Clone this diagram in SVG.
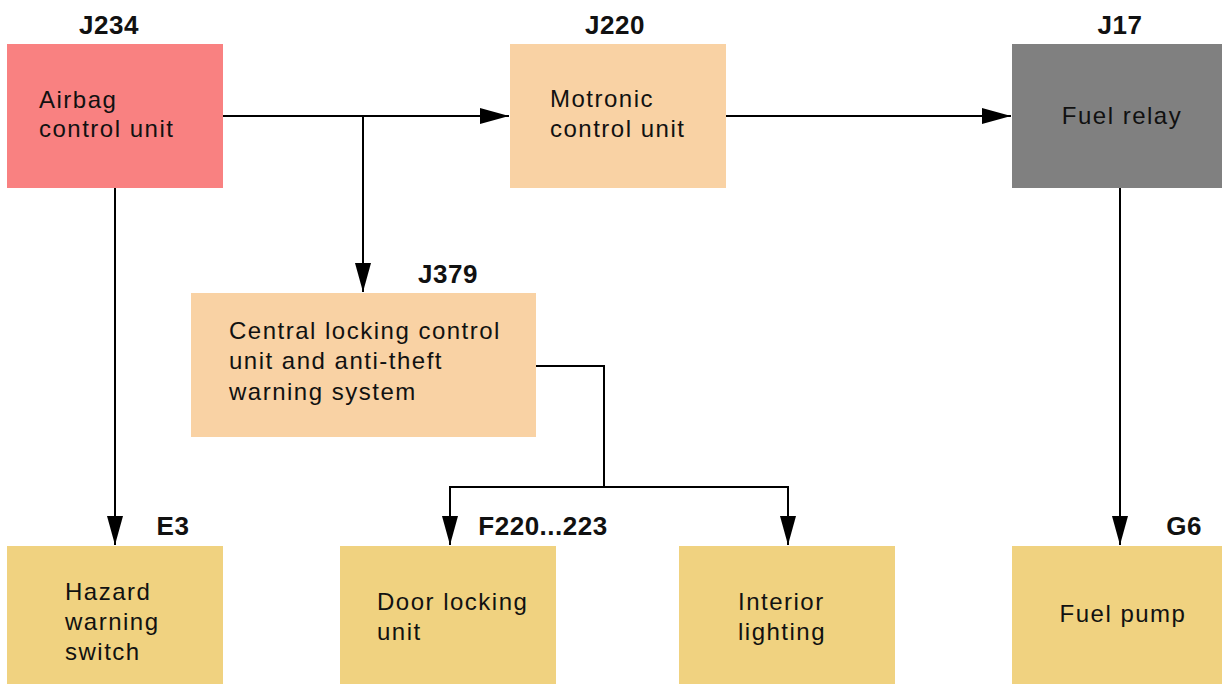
<svg xmlns="http://www.w3.org/2000/svg" width="1222" height="684" viewBox="0 0 1222 684">
<defs>
<marker id="arr" markerUnits="userSpaceOnUse" markerWidth="30" markerHeight="18" refX="29" refY="8" orient="auto">
<path d="M0,0 L29,8 L0,16 z" fill="#000"/>
</marker>
<style>
.t{font-family:"Liberation Sans",Arial,sans-serif;font-size:24px;letter-spacing:1.5px;fill:#111}
.c{text-anchor:middle}
.lb{font-family:"Liberation Sans",Arial,sans-serif;font-size:26px;font-weight:bold;letter-spacing:0.5px;fill:#111;text-anchor:middle}
.ln{fill:none;stroke:#000;stroke-width:2}
.red{fill:#F98181}
.or{fill:#F9D2A4}
.gr{fill:#808080}
.ye{fill:#F0D280}
</style>
</defs>
<rect width="1222" height="684" fill="#fff"/>
<g id="J234">
<rect class="red" x="7" y="44" width="216" height="144"/>
<text class="lb" x="109" y="34">J234</text>
<text class="t" x="39" y="108">Airbag</text>
<text class="t" x="39" y="137">control unit</text>
</g>
<g id="J220">
<rect class="or" x="510" y="44" width="216" height="144"/>
<text class="lb" x="615" y="34">J220</text>
<text class="t" x="550" y="107">Motronic</text>
<text class="t" x="550" y="137">control unit</text>
</g>
<g id="J17">
<rect class="gr" x="1012" y="44" width="210" height="144"/>
<text class="lb" x="1120" y="34">J17</text>
<text class="t c" x="1122" y="124">Fuel relay</text>
</g>
<g id="J379">
<rect class="or" x="191" y="293" width="345" height="144"/>
<text class="lb" x="448" y="283">J379</text>
<text class="t" x="229" y="339">Central locking control</text>
<text class="t" x="229" y="369">unit and anti-theft</text>
<text class="t" x="229" y="400">warning system</text>
</g>
<g id="E3">
<rect class="ye" x="7" y="546" width="216" height="138"/>
<text class="lb" x="173" y="535">E3</text>
<text class="t" x="65" y="600">Hazard</text>
<text class="t" x="65" y="630">warning</text>
<text class="t" x="65" y="660">switch</text>
</g>
<g id="F220">
<rect class="ye" x="340" y="546" width="216" height="138"/>
<text class="lb" x="543" y="535">F220...223</text>
<text class="t" x="377" y="610">Door locking</text>
<text class="t" x="377" y="640">unit</text>
</g>
<g id="Interior">
<rect class="ye" x="679" y="546" width="216" height="138"/>
<text class="t" x="738" y="610">Interior</text>
<text class="t" x="738" y="640">lighting</text>
</g>
<g id="G6">
<rect class="ye" x="1012" y="546" width="210" height="138"/>
<text class="lb" x="1184" y="535">G6</text>
<text class="t c" x="1123" y="622">Fuel pump</text>
</g>
<g id="connectors">
<path class="ln" d="M223,116 H509" marker-end="url(#arr)"/>
<path class="ln" d="M363,116 V292" marker-end="url(#arr)"/>
<path class="ln" d="M726,116 H1011" marker-end="url(#arr)"/>
<path class="ln" d="M115,188 V545" marker-end="url(#arr)"/>
<path class="ln" d="M1120,188 V545" marker-end="url(#arr)"/>
<path class="ln" d="M536,366 H604 V487"/>
<path class="ln" d="M604,487 H450 V545" marker-end="url(#arr)"/>
<path class="ln" d="M604,487 H788 V545" marker-end="url(#arr)"/>
</g>
</svg>
